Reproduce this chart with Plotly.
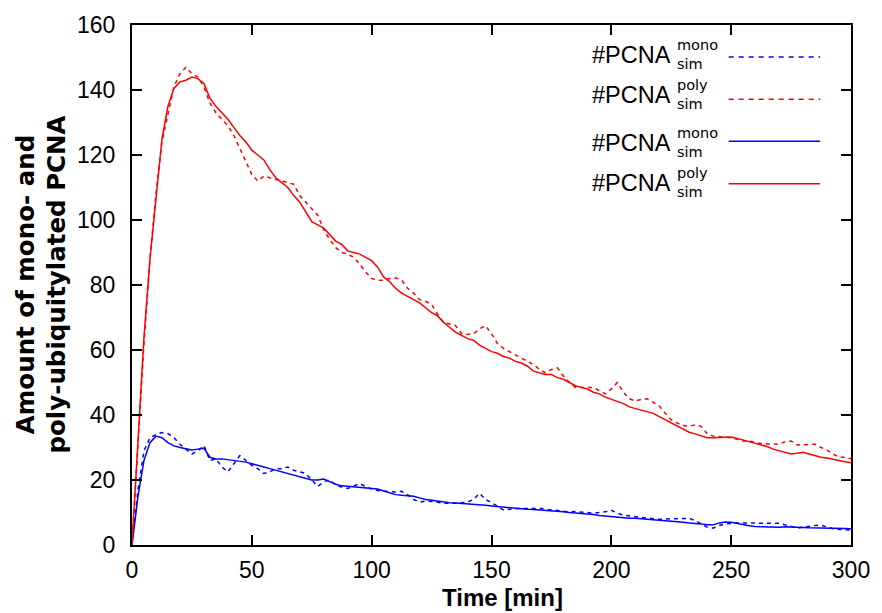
import plotly.graph_objects as go

# time grid [min], every 2.5 min from 0 to 300
time_min = [i * 2.5 for i in range(121)]

poly_sim_solid = [
    0, 33, 64, 88, 107, 125, 135, 140.5, 142.5, 143,
    144, 143.5, 142, 137.5, 135, 133, 131, 128.5, 126, 124,
    121.5, 120, 118.5, 115.5, 113, 111.5, 110, 107.5, 105.5, 102.5,
    99.5, 98.5, 97.5, 95.5, 93.5, 92.5, 90.5, 90, 89.5, 88.5,
    87.5, 85.5, 82.5, 81, 79, 77.5, 76.5, 75.5, 74.5, 73,
    71.5, 70.5, 68.5, 67, 65.5, 64.5, 63.5, 63, 61.5, 60.5,
    59.5, 59, 58, 57.5, 56.5, 56, 55, 53.5, 53, 52.5,
    52.5, 51.5, 51, 50, 49, 48.5, 48, 47, 46.5, 45.5,
    44.8, 44, 43.5, 42.5, 42, 41.5, 41, 40.5, 39.5, 38.5,
    37.5, 36.5, 35.5, 34.7, 34.2, 33.5, 33, 33, 33, 33.2,
    33.2, 32.8, 32.3, 32, 31.5, 31, 30.3, 29.5, 29, 28.3,
    28, 28.2, 28.5, 28, 27.5, 27, 26.8, 26.5, 26, 25.6,
    25.3,
]

poly_sim_dashed = [
    0, 30, 62, 88, 108, 124, 133, 141, 145, 147,
    145, 144, 141, 136, 133, 131, 129, 126, 122, 118,
    114, 112, 113.5, 113, 112.5, 112, 111.5, 111, 107.5, 105.5,
    103.5, 101.5, 97, 94, 91.5, 90, 89.5, 88.5, 86.5, 84,
    82, 81.5, 81.5, 82, 82.2, 81.5, 79, 77.5, 75.5, 75,
    74, 71, 68.5, 68, 67.5, 65, 64.8, 65, 66.5, 67.5,
    65, 62, 60.5, 59.5, 58.5, 57.5, 56.5, 55.5, 54, 53,
    54, 54.5, 52, 50, 48.5, 48.5, 48.5, 48.5, 47.5, 46.5,
    48, 50, 47, 45, 44.3, 44.8, 45, 44, 42.8, 40.5,
    38.5, 37.5, 36.8, 36.5, 37, 36.5, 34.2, 33.5, 33.3, 33,
    33, 32.5, 32, 32, 31.5, 31.2, 31.1, 31.1, 31, 31.8,
    32, 30.8, 30.8, 31, 31, 30, 29.2, 28, 27, 27,
    26.5,
]

mono_sim_solid = [
    0, 15, 26, 31.5, 33.5, 33, 31.5, 30.5, 30, 29.5,
    29.2, 29.5, 29.8, 27, 26.5, 26.5, 26.3, 26, 25.7, 25.5,
    25, 24.6, 24, 23.5, 23, 22.5, 22, 21.4, 21, 20.5,
    20, 20, 20.3, 19.5, 18.7, 18.2, 18, 17.8, 17.8, 17.5,
    17.4, 17.2, 16.6, 16.1, 15.5, 15.3, 15.2, 15, 14.5, 14,
    13.8, 13.5, 13.2, 13, 12.9, 12.8, 12.6, 12.4, 12.3, 12.2,
    12, 11.8, 11.6, 11.4, 11.3, 11.1, 11, 10.9, 10.8, 10.7,
    10.5, 10.3, 10.2, 10, 9.9, 9.8, 9.6, 9.4, 9.1, 8.9,
    8.8, 8.6, 8.4, 8.2, 8.2, 8, 7.9, 7.8, 7.6, 7.5,
    7.4, 7.2, 7, 6.8, 6.7, 6.5, 6.2, 6.2, 6.8, 7.1,
    7, 6.6, 6.2, 5.9, 5.7, 5.6, 5.6, 5.6, 5.5, 5.6,
    5.6, 5.5, 5.4, 5.3, 5.3, 5.2, 5.2, 5.2, 5.1, 5.1,
    5,
]

mono_sim_dashed = [
    0, 17, 29, 33, 34, 34.6, 34.3, 33, 31, 29.5,
    28, 29, 30.6, 26, 26.5, 24, 22.5, 25, 27.5, 26,
    24.5, 23.5, 22, 22.5, 23.5, 23.5, 24, 23, 22.5, 22,
    20, 18, 19.5, 20, 18.5, 17.8, 17.4, 18.2, 18.9, 18,
    17.2, 16.8, 16.5, 16.4, 16.3, 16.5, 15.5, 14, 13.2, 13.5,
    13.4, 13.1, 12.9, 12.8, 12.8, 13, 13.2, 14, 15.9, 14,
    13, 11.8, 10.8, 11, 11.2, 11.3, 11.2, 11.3, 11.3, 11,
    10.8, 10.5, 10.4, 10.2, 10.3, 10.1, 9.9, 9.8, 10, 10.2,
    10.7, 9.8, 9.2, 8.9, 8.7, 8.5, 8.3, 8, 7.9, 8,
    8.1, 8.1, 8.2, 8.2, 7.5, 6.5, 5.5, 5.2, 6, 6.5,
    6.7, 6.8, 6.8, 6.7, 6.7, 6.7, 6.7, 6.7, 6.7, 6.2,
    5.6, 5.2, 5.5, 5.8, 6, 6.1, 5.5, 5, 4.8, 4.6,
    4.6,
]

x_ticks = [0, 50, 100, 150, 200, 250, 300]
y_ticks = [0, 20, 40, 60, 80, 100, 120, 140, 160]

x_title = "Time [min]"
y_title = "Amount of mono- and<br>poly-ubiquitylated PCNA"

legend_main = ["#PCNA", "#PCNA", "#PCNA", "#PCNA"]
legend_sup = ["mono", "poly", "mono", "poly"]
legend_sub = ["sim", "sim", "sim", "sim"]

BLUE = "#0000ff"
RED = "#ff0000"
FONT = "Liberation Sans, Arial, Helvetica, sans-serif"
WIDE = "DejaVu Sans, Liberation Sans, sans-serif"

fig = go.Figure()
series = [
    (mono_sim_dashed, BLUE, "4px,4px"),
    (poly_sim_dashed, RED, "4px,4px"),
    (mono_sim_solid, BLUE, "solid"),
    (poly_sim_solid, RED, "solid"),
]
for vals, col, dash in series:
    fig.add_trace(go.Scatter(
        x=time_min, y=vals, mode="lines",
        line=dict(color=col, width=1.5, dash=dash),
        showlegend=False, hoverinfo="skip",
    ))

# plot-area pixel geometry (for hand-placed legend / titles)
L, R, T, B = 132, 855, 22, 545
def px(xp):
    return (xp - L) / (R - L)
def py(yp):
    return (B - yp) / (B - T)

cap_y = [52.5, 92.0, 140.3, 180.7]
line_y = [54.3, 96.7, 139.0, 181.7]
dashes = ["5px,5px", "5px,5px", "solid", "solid"]
colors = [BLUE, RED, BLUE, RED]

annotations = []
shapes = []
for i in range(4):
    annotations.append(dict(
        x=px(676), y=py(cap_y[i]), xref="paper", yref="paper",
        text=legend_main[i], showarrow=False, xanchor="right", yanchor="middle",
        font=dict(family=FONT, size=23.5, color="black"),
    ))
    annotations.append(dict(
        x=px(678), y=py(cap_y[i] - 0.5), xref="paper", yref="paper",
        text=legend_sup[i] + "<br>" + legend_sub[i], showarrow=False,
        xanchor="left", yanchor="middle", align="left",
        font=dict(family=WIDE, size=14.5, color="black"),
    ))
    shapes.append(dict(
        type="line", xref="paper", yref="paper",
        x0=px(732), x1=px(824), y0=py(line_y[i]), y1=py(line_y[i]),
        line=dict(color=colors[i], width=1.5, dash=dashes[i]),
    ))

# axis titles
annotations.append(dict(
    x=px(505), y=py(598), xref="paper", yref="paper", text=x_title,
    showarrow=False, xanchor="center", yanchor="middle",
    font=dict(family=FONT, size=24, color="black", weight="bold"),
))
annotations.append(dict(
    x=px(40), y=py(283.5), xref="paper", yref="paper", text=y_title,
    showarrow=False, xanchor="center", yanchor="middle", textangle=-90,
    font=dict(family=WIDE, size=24.5, color="black", weight="bold"),
))

axis_common = dict(
    showline=True, linecolor="black", linewidth=2,
    mirror="allticks", ticks="inside", ticklen=10, tickwidth=2, tickcolor="black",
    showgrid=False, zeroline=False,
    tickfont=dict(family=FONT, size=23, color="black"),
)

fig.update_layout(
    width=882, height=613,
    margin=dict(l=L, r=882 - R, t=T, b=613 - B),
    plot_bgcolor="white", paper_bgcolor="white",
    xaxis=dict(range=[0, 300], tickvals=x_ticks, ticklabelstandoff=3, **axis_common),
    yaxis=dict(range=[0, 160], tickvals=y_ticks, ticklabelstandoff=10, **axis_common),
    annotations=annotations,
    shapes=shapes,
)

fig.write_html("out.html", config={"displayModeBar": False},
               post_script="document.body.style.margin='0px';")
